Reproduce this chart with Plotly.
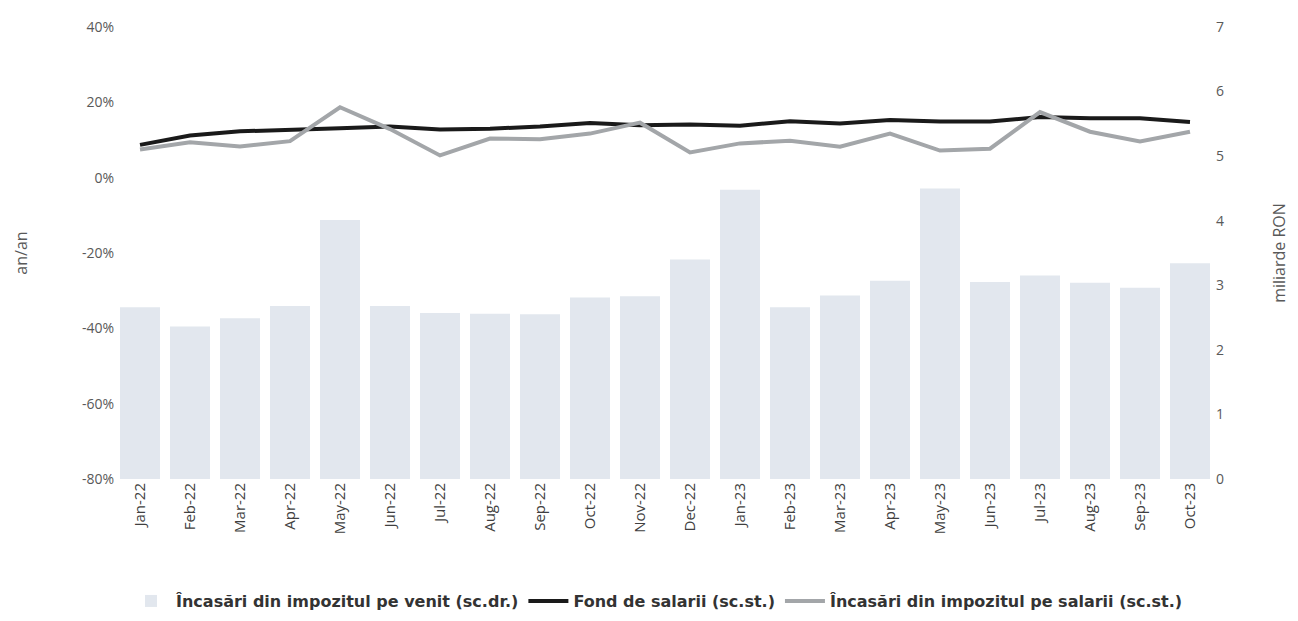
import plotly.graph_objects as go

months = ["Jan-22", "Feb-22", "Mar-22", "Apr-22", "May-22", "Jun-22", "Jul-22", "Aug-22",
          "Sep-22", "Oct-22", "Nov-22", "Dec-22", "Jan-23", "Feb-23", "Mar-23", "Apr-23",
          "May-23", "Jun-23", "Jul-23", "Aug-23", "Sep-23", "Oct-23"]

# Încasări din impozitul pe venit (miliarde RON, right axis)
impozit_venit = [2.66, 2.36, 2.49, 2.68, 4.01, 2.68, 2.57, 2.56, 2.55, 2.81, 2.83,
                 3.40, 4.48, 2.66, 2.84, 3.07, 4.50, 3.05, 3.15, 3.04, 2.96, 3.34]

# Fond de salarii (% an/an, left axis)
fond_salarii = [8.7, 11.2, 12.3, 12.6, 13.1, 13.6, 12.8, 13.0, 13.6, 14.5, 13.9,
                14.1, 13.8, 15.0, 14.4, 15.3, 14.9, 14.9, 16.1, 15.8, 15.8, 14.8]

# Încasări din impozitul pe salarii (% an/an, left axis)
impozit_salarii = [7.5, 9.4, 8.3, 9.7, 18.7, 12.9, 5.9, 10.4, 10.2, 11.7, 14.6,
                   6.7, 9.1, 9.8, 8.2, 11.7, 7.2, 7.7, 17.4, 12.2, 9.6, 12.2]

left_ticks = [-80, -60, -40, -20, 0, 20, 40]
left_ticktext = [f"{v}%" for v in left_ticks]
right_ticks = [0, 1, 2, 3, 4, 5, 6, 7]

fig = go.Figure()
fig.add_trace(go.Bar(
    x=months, y=impozit_venit, yaxis="y2",
    name="Încasări din impozitul pe venit (sc.dr.)",
    marker=dict(color="#e2e7ee", line=dict(width=0)),
))
fig.add_trace(go.Scatter(
    x=months, y=fond_salarii, yaxis="y", mode="lines",
    name="Fond de salarii (sc.st.)",
    line=dict(color="#1a1a1a", width=4),
))
fig.add_trace(go.Scatter(
    x=months, y=impozit_salarii, yaxis="y", mode="lines",
    name="Încasări din impozitul pe salarii (sc.st.)",
    line=dict(color="#a3a6a9", width=4),
))

fig.update_layout(
    width=1298, height=621,
    margin=dict(l=107, r=91, t=19, b=150, autoexpand=False),
    paper_bgcolor="white", plot_bgcolor="white",
    font=dict(family="Open Sans", color="#595959"),
    bargap=0.2,
    showlegend=True,
    legend=dict(
        orientation="h", x=0.5, xanchor="center", xref="container",
        y=0.045, yanchor="middle", yref="container",
        font=dict(family="DejaVu Sans", size=16, color="#333333", weight="bold"),
        traceorder="normal", itemwidth=40,
    ),
    xaxis=dict(
        type="category", tickangle=-90, showgrid=False, showline=False, ticks="",
        tickfont=dict(size=15, color="#404040"),
    ),
    yaxis=dict(
        range=[-80, 40], tickvals=left_ticks, ticktext=left_ticktext,
        showgrid=False, zeroline=False, showline=False,
        tickfont=dict(size=14, color="#595959"),
        title=dict(text="an/an", font=dict(size=16, color="#595959"), standoff=50),
    ),
    yaxis2=dict(
        range=[0, 7], tickvals=right_ticks, overlaying="y", side="right",
        showgrid=False, zeroline=False, showline=False,
        tickfont=dict(size=14, color="#595959"),
        title=dict(text="miliarde RON", font=dict(size=16, color="#595959"), standoff=50),
    ),
)

fig.write_html("out.html")
